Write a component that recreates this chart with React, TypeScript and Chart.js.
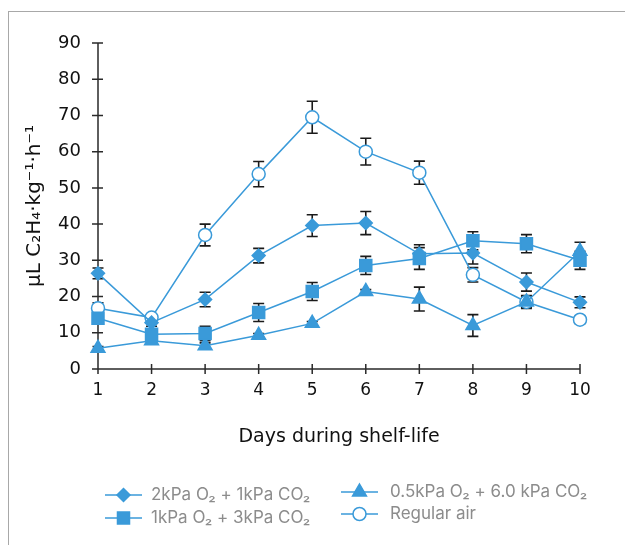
import React, { useEffect, useRef } from 'react';
import { Chart, registerables } from 'chart.js';
Chart.register(...registerables);

const days = [1, 2, 3, 4, 5, 6, 7, 8, 9, 10];
const seriesLabels = ['2kPa O₂ + 1kPa CO₂', '1kPa O₂ + 3kPa CO₂', '0.5kPa O₂ + 6.0 kPa CO₂', 'Regular air'];
const lowO2 = [26.4, 12.8, 19.2, 31.3, 39.6, 40.3, 31.8, 32.0, 24.0, 18.4];
const lowO2Err = [1.5, 1.0, 2.0, 2.0, 3.0, 3.2, 2.5, 3.0, 2.5, 1.5];
const midCO2 = [14.0, 9.6, 9.8, 15.6, 21.4, 28.6, 30.5, 35.4, 34.6, 30.0];
const midCO2Err = [1.5, 1.0, 2.0, 2.5, 2.5, 2.5, 3.0, 2.5, 2.5, 2.5];
const highCO2 = [5.7, 7.8, 6.4, 9.3, 12.6, 21.4, 19.3, 12.0, 18.5, 32.5];
const highCO2Err = [0.5, 0.5, 0.8, 0.5, 0.5, 0.5, 3.3, 3.0, 1.5, 2.5];
const air = [16.8, 14.2, 37.0, 53.8, 69.5, 60.0, 54.2, 26.0, 18.5, 13.6];
const airErr = [1.5, 1.0, 3.0, 3.5, 4.4, 3.7, 3.2, 2.0, 1.8, 1.0];
const yTitle = 'μL C₂H₄·kg⁻¹·h⁻¹';
const xTitle = 'Days during shelf-life';

const BLUE = '#3a9ad9';
const AXIS = '#2a2a2a';
const TICK_FONT = '"DejaVu Sans", sans-serif';
const LEGEND_FONT = 'Inter, sans-serif';

function drawMarker(ctx: CanvasRenderingContext2D, style: string, x: number, y: number, r: number, fill: string) {
  ctx.save();
  ctx.beginPath();
  if (style === 'rectRot') {
    ctx.moveTo(x, y - r); ctx.lineTo(x + r, y); ctx.lineTo(x, y + r); ctx.lineTo(x - r, y); ctx.closePath();
  } else if (style === 'rect') {
    const s = Math.SQRT1_2 * r;
    ctx.rect(x - s, y - s, 2 * s, 2 * s);
  } else if (style === 'triangle') {
    const h = r;
    ctx.moveTo(x, y - h);
    ctx.lineTo(x + h * Math.sqrt(3) / 2, y + h / 2);
    ctx.lineTo(x - h * Math.sqrt(3) / 2, y + h / 2);
    ctx.closePath();
  } else {
    ctx.arc(x, y, r, 0, Math.PI * 2);
  }
  ctx.fillStyle = fill;
  ctx.fill();
  ctx.strokeStyle = BLUE;
  ctx.lineWidth = 1.5;
  ctx.stroke();
  ctx.restore();
}

export default function App() {
  const ref = useRef<HTMLCanvasElement | null>(null);
  useEffect(() => {
    document.body.style.overflow = 'hidden';
    const errs = [lowO2Err, midCO2Err, highCO2Err, airErr];
    const vals = [lowO2, midCO2, highCO2, air];
    const styles = ['rectRot', 'rect', 'triangle', 'circle'];
    const radii = [6.5, 8.5, 8, 6.5];
    const fills = [BLUE, BLUE, BLUE, '#ffffff'];

    const axesPlugin = {
      id: 'axesCross',
      beforeDatasetsDraw(chart: any) {
        const { ctx, chartArea } = chart;
        const xs = chart.scales.x, ys = chart.scales.y;
        ctx.save();
        ctx.strokeStyle = AXIS;
        ctx.lineWidth = 1.5;
        ctx.beginPath();
        ctx.moveTo(chartArea.left, chartArea.top);
        ctx.lineTo(chartArea.left, chartArea.bottom);
        ctx.moveTo(chartArea.left, chartArea.bottom);
        ctx.lineTo(chartArea.right, chartArea.bottom);
        ys.ticks.forEach((t: any) => {
          const py = ys.getPixelForValue(t.value);
          ctx.moveTo(chartArea.left - 6, py);
          ctx.lineTo(chartArea.left + 5, py);
        });
        xs.ticks.forEach((t: any) => {
          const px = xs.getPixelForValue(t.value);
          ctx.moveTo(px, chartArea.bottom - 5);
          ctx.lineTo(px, chartArea.bottom + 5);
        });
        ctx.stroke();
        // error bars
        ctx.strokeStyle = '#1a1a1a';
        ctx.lineWidth = 1.6;
        ctx.beginPath();
        errs.forEach((e, i) => {
          vals[i].forEach((v, j) => {
            const px = xs.getPixelForValue(days[j]);
            const top = ys.getPixelForValue(v + e[j]);
            const bot = ys.getPixelForValue(v - e[j]);
            ctx.moveTo(px, top); ctx.lineTo(px, bot);
            ctx.moveTo(px - 5.5, top); ctx.lineTo(px + 5.5, top);
            ctx.moveTo(px - 5.5, bot); ctx.lineTo(px + 5.5, bot);
          });
        });
        ctx.stroke();
        ctx.restore();
      },
      afterDraw(chart: any) {
        const { ctx } = chart;
        const pos = [
          { x: 105, y: 495, tx: 151 },
          { x: 105, y: 518, tx: 151 },
          { x: 341, y: 492, tx: 390 },
          { x: 341, y: 514, tx: 390 },
        ];
        ctx.save();
        chart.data.datasets.forEach((ds: any, i: number) => {
          const p = pos[i];
          ctx.strokeStyle = BLUE;
          ctx.lineWidth = 1.5;
          ctx.beginPath();
          ctx.moveTo(p.x, p.y);
          ctx.lineTo(p.x + 37, p.y);
          ctx.stroke();
          drawMarker(ctx, styles[i], p.x + 18.5, p.y, radii[i], fills[i]);
          ctx.fillStyle = '#8c8c8c';
          ctx.font = '17px ' + LEGEND_FONT;
          ctx.textBaseline = 'middle';
          ctx.textAlign = 'left';
          ctx.fillText(ds.label, p.tx, p.y);
        });
        ctx.restore();
      },
    };

    const datasets = vals.map((v, i) => ({
      label: seriesLabels[i],
      data: v.map((y, j) => ({ x: days[j], y })),
      borderColor: BLUE,
      borderWidth: 1.5,
      backgroundColor: fills[i],
      pointStyle: styles[i],
      pointRadius: radii[i],
      pointBorderColor: BLUE,
      pointBackgroundColor: fills[i],
      pointBorderWidth: 1.5,
      tension: 0,
      clip: false,
    }));

    const chart = new Chart(ref.current as HTMLCanvasElement, {
      type: 'line',
      data: { datasets },
      plugins: [axesPlugin],
      options: {
        animation: false,
        responsive: false,
        events: [],
        layout: { padding: { left: 0, top: 43, right: 45, bottom: 85 } },
        plugins: { legend: { display: false }, tooltip: { enabled: false } },
        scales: {
          x: {
            type: 'linear',
            min: 1,
            max: 10,
            grid: { display: false, drawTicks: false },
            border: { display: false },
            ticks: { stepSize: 1, padding: 11, color: '#111', font: { size: 17, family: TICK_FONT } },
            title: { display: true, text: xTitle, color: '#111', font: { size: 19, family: TICK_FONT }, padding: { top: 0, bottom: 12 } },
            afterFit(scale: any) { scale.height = 91; },
          },
          y: {
            min: 0,
            max: 90,
            grid: { display: false, drawTicks: false },
            border: { display: false },
            ticks: { stepSize: 10, padding: 17, color: '#111', font: { size: 18, family: TICK_FONT } },
            title: { display: true, text: yTitle, color: '#111', font: { size: 20, family: TICK_FONT }, padding: { top: 23, bottom: 0 } },
            afterFit(scale: any) { scale.width = 98; },
          },
        },
      },
    } as any);
    return () => chart.destroy();
  }, []);

  return (
    <div>
      <div style={{ position: 'absolute', left: 8, top: 11, width: 616, height: 533, borderTop: '1px solid #a8a8a8', borderLeft: '1px solid #a8a8a8' }} />
      <canvas ref={ref} width={625} height={545} style={{ position: 'absolute', left: 0, top: 0, width: 625, height: 545 }} />
    </div>
  );
}
